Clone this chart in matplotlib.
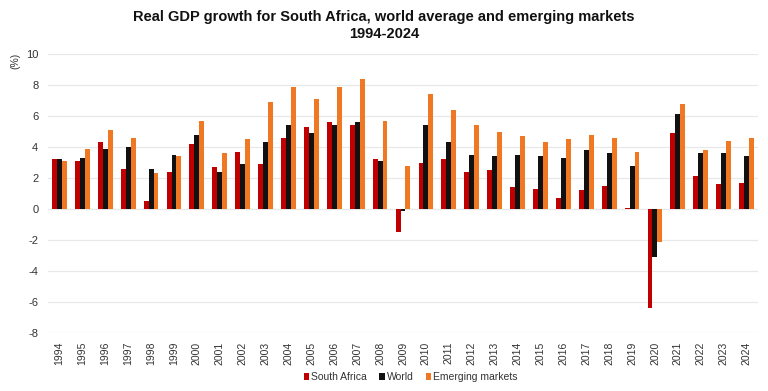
import matplotlib
matplotlib.use("Agg")
import matplotlib.pyplot as plt
import numpy as np

years = [str(y) for y in range(1994, 2025)]
south_africa = [3.2, 3.1, 4.3, 2.6, 0.5, 2.4, 4.2, 2.7, 3.7, 2.9, 4.6, 5.3, 5.6, 5.4, 3.2, -1.5,
                3.0, 3.2, 2.4, 2.5, 1.4, 1.3, 0.7, 1.2, 1.5, 0.1, -6.4, 4.9, 2.1, 1.6, 1.7]
world = [3.2, 3.3, 3.9, 4.0, 2.6, 3.5, 4.8, 2.4, 2.9, 4.3, 5.4, 4.9, 5.4, 5.6, 3.1, -0.1,
         5.4, 4.3, 3.5, 3.4, 3.5, 3.4, 3.3, 3.8, 3.6, 2.8, -3.1, 6.1, 3.6, 3.6, 3.4]
emerging = [3.1, 3.9, 5.1, 4.6, 2.3, 3.4, 5.7, 3.6, 4.5, 6.9, 7.9, 7.1, 7.9, 8.4, 5.7, 2.8,
            7.4, 6.4, 5.4, 5.0, 4.7, 4.3, 4.5, 4.8, 4.6, 3.7, -2.1, 6.8, 3.8, 4.4, 4.6]

plt.rcParams['font.family'] = ['Liberation Sans', 'DejaVu Sans']
plt.rcParams['axes.unicode_minus'] = False

fig = plt.figure(figsize=(7.68, 3.91), dpi=100)
ax = fig.add_axes([0.0625, 0.148, 0.9245, 0.714])

x = np.arange(len(years))
w = 0.215
ax.bar(x - w, south_africa, w, color='#C00000', label='South Africa', zorder=3)
ax.bar(x, world, w, color='#111111', label='World', zorder=3)
ax.bar(x + w, emerging, w, color='#F07822', label='Emerging markets', zorder=3)

ax.set_ylim(-8, 10)
ax.set_yticks(range(-8, 11, 2))
ax.set_xlim(-0.5, len(years) - 0.5)
ax.set_xticks(x)
ax.set_xticklabels(years, rotation=90, fontsize=7.5, color='#333333')
ax.tick_params(axis='y', labelsize=8, colors='#333333', length=0, pad=7)
ax.tick_params(axis='x', length=0, pad=6)
ax.grid(axis='y', color='#E8E8E8', linewidth=0.9, zorder=0)
for s in ax.spines.values():
    s.set_visible(False)

fig.text(0.02, 0.845, '(%)', rotation=90, fontsize=7.5, color='#333333', ha='center', va='center')
fig.suptitle('Real GDP growth for South Africa, world average and emerging markets\n1994-2024',
             fontsize=10.5, fontweight='bold', y=0.975, color='#111111', linespacing=1.3)

leg = fig.legend(loc='center', bbox_to_anchor=(0.535, 0.035), ncol=3, frameon=False,
                 fontsize=7.5, handlelength=0.5, handleheight=0.7, handletextpad=0.2,
                 columnspacing=1.2)
for t in leg.get_texts():
    t.set_color('#333333')

fig.savefig('out.png', dpi=100)
